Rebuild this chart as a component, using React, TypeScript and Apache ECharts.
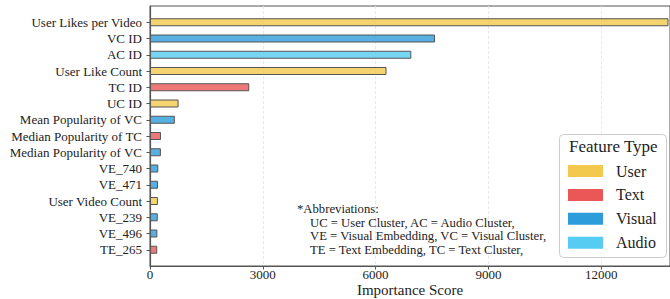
import React, { useEffect, useRef } from "react";
import * as echarts from "echarts";

const categories = [
  "User Likes per Video",
  "VC ID",
  "AC ID",
  "User Like Count",
  "TC ID",
  "UC ID",
  "Mean Popularity of VC",
  "Median Popularity of TC",
  "Median Popularity of VC",
  "VE_740",
  "VE_471",
  "User Video Count",
  "VE_239",
  "VE_496",
  "TE_265",
];
const importance = [13790, 7580, 6950, 6290, 2640, 760, 660, 292, 290, 220, 212, 210, 206, 196, 192];
const featureTypes = [
  "User", "Visual", "Audio", "User", "Text", "User", "Visual", "Text",
  "Visual", "Visual", "Visual", "User", "Visual", "Visual", "Text",
];
const typeNames = ["User", "Text", "Visual", "Audio"];
const typeColors = ["#F2C94C", "#EB5757", "#2D9CDB", "#56CCF2"];
const barColors = [
  "rgba(242,201,76,0.8)",
  "rgba(235,87,87,0.8)",
  "rgba(45,156,219,0.8)",
  "rgba(86,204,242,0.8)",
];
const xTicks = [0, 3000, 6000, 9000, 12000];
const abbreviationLines = [
  "*Abbreviations:",
  "UC = User Cluster, AC = Audio Cluster,",
  "VE = Visual Embedding, VC = Visual Cluster,",
  "TE = Text Embedding, TC = Text Cluster,",
];

const FONT = "Liberation Serif";

export default function App() {
  const ref = useRef<HTMLDivElement>(null);
  useEffect(() => {
    if (!ref.current) return;
    const chart = echarts.init(ref.current, null, { renderer: "svg" });
    const padTop = " ";
    const padBottom = "  ";
    const yCats = [padTop, ...categories, padBottom];
    const series = typeNames.map((t, ti) => ({
      name: t,
      type: "bar",
      stack: "all",
      barWidth: 8,
      data: ["-", ...importance.map((v, i) => (featureTypes[i] === t ? v : "-")), "-"],
      itemStyle: { color: barColors[ti], borderColor: "#555", borderWidth: 1 },
      emphasis: { disabled: true },
    }));
    const textEls: any[] = abbreviationLines.map((line, i) => ({
      type: "text",
      left: i === 0 ? 297 : 310,
      top: [202.5, 216, 229.5, 243][i],
      z: 10,
      style: { text: line, fontFamily: FONT, fontSize: 12.7, fill: "#222" },
    }));
    chart.setOption({
      animation: false,
      textStyle: { fontFamily: FONT },
      grid: {
        left: 150,
        top: 6,
        right: 0,
        bottom: 33,
        show: true,
        borderColor: "#555",
        borderWidth: 1,
        containLabel: false,
        outerBoundsMode: "none",
      },
      xAxis: {
        type: "value",
        min: 0,
        max: 13830,
        interval: 3000,
        name: "Importance Score",
        nameLocation: "middle",
        nameGap: 16,
        nameMoveOverlap: false,
        nameTextStyle: { fontFamily: FONT, fontSize: 15, color: "#222" },
        axisLine: { show: true, lineStyle: { color: "#555", width: 1.2 } },
        axisTick: { show: true, length: 3.5, lineStyle: { color: "#555" } },
        axisLabel: {
          fontFamily: FONT,
          fontSize: 13,
          color: "#222",
          margin: 1.5,
          showMaxLabel: false,
          formatter: (v: number) => (xTicks.includes(v) ? String(v) : ""),
        },
        splitLine: {
          show: true,
          lineStyle: { color: "#e2e2e2", type: [3, 2], width: 0.8 },
        },
      },
      yAxis: {
        type: "category",
        data: yCats,
        inverse: true,
        boundaryGap: false,
        axisLine: { show: true, lineStyle: { color: "#555", width: 1.2 } },
        axisTick: {
          show: true,
          length: 3.5,
          lineStyle: { color: "#555" },
          interval: (_i: number, v: string) => v.trim() !== "",
        },
        axisLabel: {
          interval: 0,
          fontFamily: FONT,
          fontSize: 13,
          color: "#222",
          margin: 8,
        },
        splitLine: { show: false },
      },
      legend: {
        orient: "vertical",
        left: 568,
        top: 163,
        padding: 0,
        itemWidth: 35,
        itemHeight: 12,
        itemGap: 7.9,
        z: 6,
        selectedMode: false,
        textStyle: {
          fontFamily: FONT,
          fontSize: 16,
          color: "#222",
          padding: [0, 0, 0, 8],
        },
        data: typeNames.map((t, i) => ({
          name: t,
          icon: "rect",
          itemStyle: { color: typeColors[i], borderWidth: 0 },
        })),
      },
      graphic: [
        {
          type: "rect",
          left: 559,
          top: 134,
          z: 3,
          shape: { width: 107, height: 123, r: 4 },
          style: { fill: "rgba(255,255,255,0.85)", stroke: "#cccccc", lineWidth: 1 },
        },
        {
          type: "text",
          left: 569,
          top: 138,
          z: 7,
          style: { text: "Feature Type", fontFamily: FONT, fontSize: 17, fill: "#222" },
        },
        ...textEls,
      ],
      series,
    });
    return () => chart.dispose();
  }, []);
  return (
    <div
      ref={ref}
      style={{ position: "absolute", left: 0, top: 0, width: 670, height: 299 }}
    />
  );
}
